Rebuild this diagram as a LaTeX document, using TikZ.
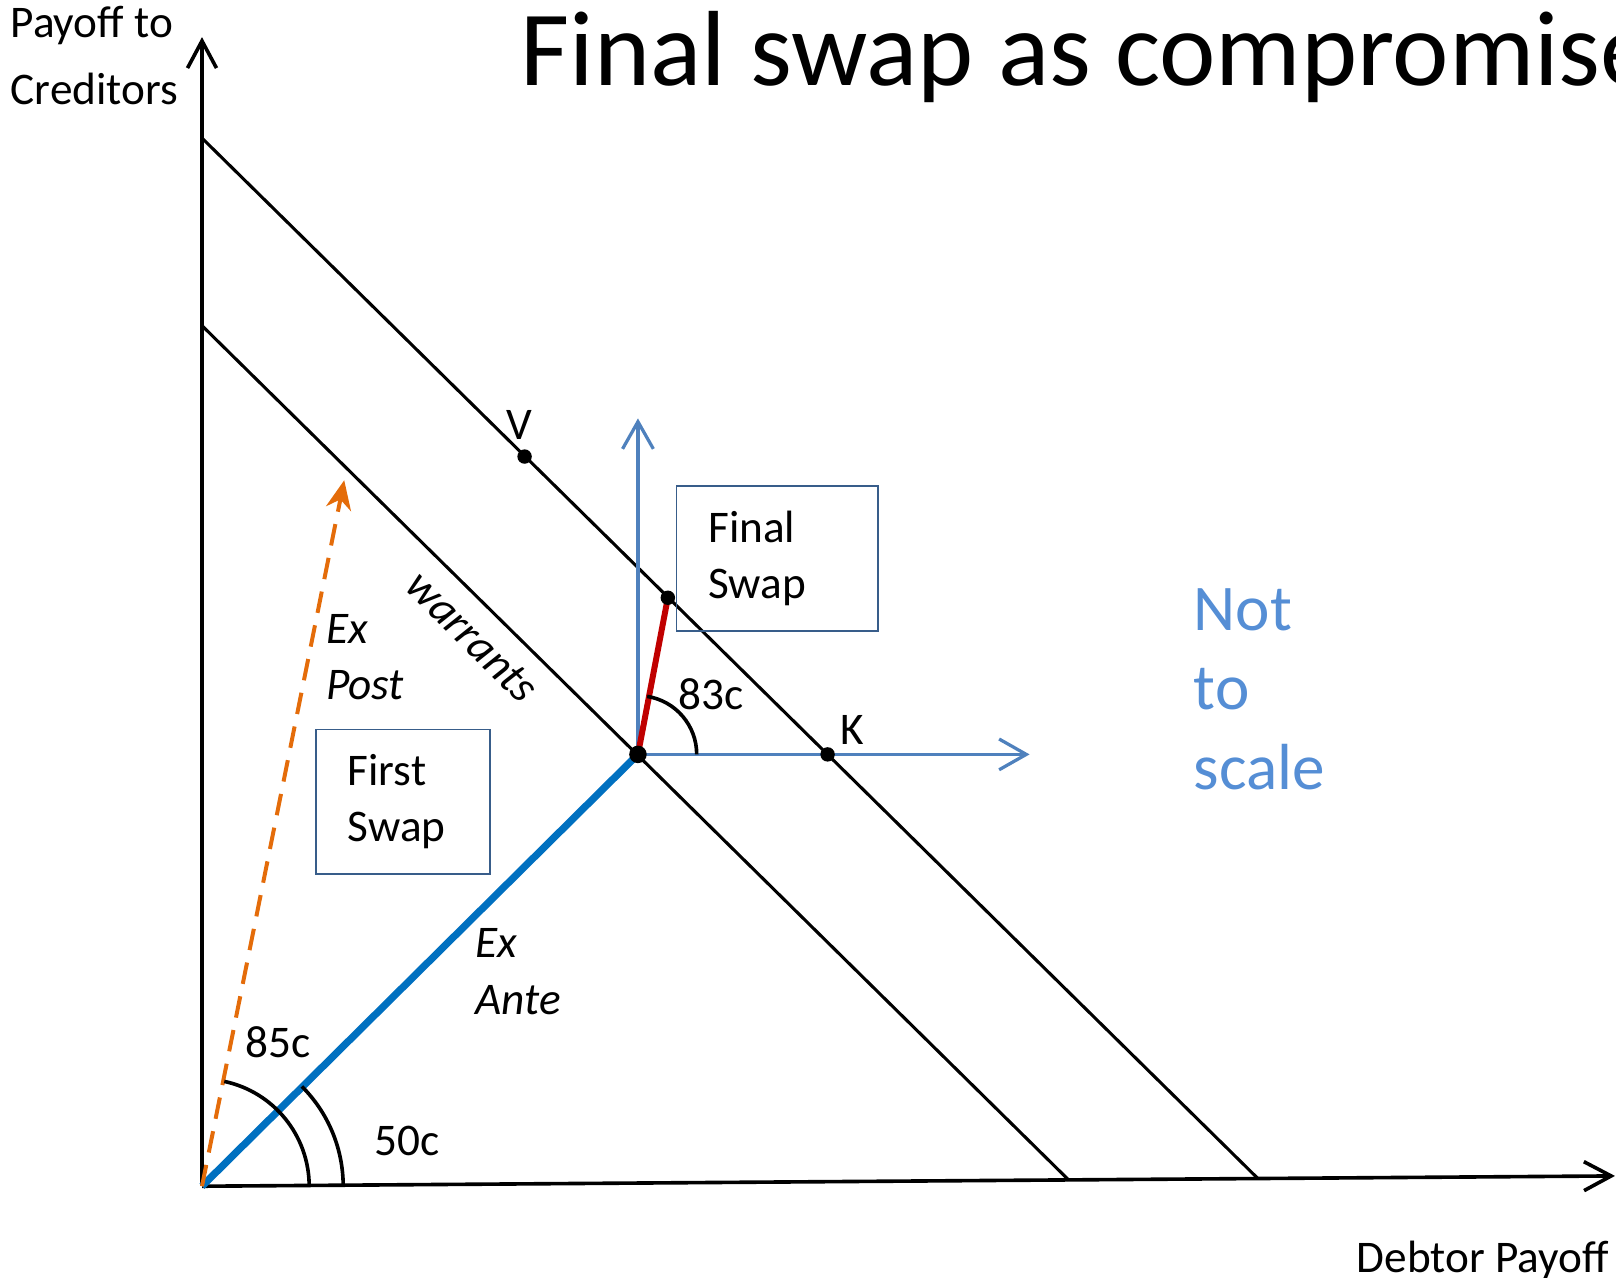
\documentclass[tikz,border=0pt]{standalone}
\usepackage{fontspec}
\setmainfont{Carlito}
\usetikzlibrary{arrows.meta}
\definecolor{frameblue}{RGB}{79,129,189}
\definecolor{anteblue}{RGB}{0,112,192}
\definecolor{boxblue}{RGB}{56,93,138}
\definecolor{noteblue}{RGB}{85,142,213}
\definecolor{swapred}{RGB}{192,0,0}
\definecolor{postorange}{RGB}{228,108,10}

\begin{document}
\begin{tikzpicture}[x=0.02cm, y=0.02cm,
  lab/.style={font=\fontsize{25}{31}\selectfont, inner sep=0pt, anchor=base west, align=left},
  itlab/.style={lab, font=\fontsize{25}{31}\selectfont\itshape},
  axis/.style={line width=2pt, -{Straight Barb[length=15pt, width=16pt]}},
  framearrow/.style={frameblue, line width=1.8pt, -{Straight Barb[length=15pt, width=17pt]}},
  anglearc/.style={line width=2pt},
  swapbox/.style={draw=boxblue, line width=0.9pt, font=\fontsize{25}{31}\selectfont,
    align=left, inner xsep=17.6pt, inner ysep=0pt, minimum height=80pt}]
  \useasboundingbox (0,0) rectangle (1568,1240);
  \clip (0,0) rectangle (1568,1240);
  % points of the diagram
  \coordinate (O) at (196,89);
  \coordinate (ytop) at (196,1204);
  \coordinate (xend) at (1567,99);
  \coordinate (U1) at (196,1106);
  \coordinate (U2) at (1220,97);
  \coordinate (L1) at (196,924);
  \coordinate (L2) at (1037,95);
  \coordinate (P) at (619,508);
  \coordinate (V) at (509,797);
  \coordinate (K) at (803,508);
  \coordinate (F) at (648,660);
  \coordinate (vtop) at (619,834);
  \coordinate (hend) at (999,508);
  \coordinate (post) at (334,774);
  % frontiers
  \draw[line width=1.7pt] (U1) -- (U2);
  \draw[line width=1.7pt] (L1) -- (L2);
  \draw[axis] (O) -- (ytop);
  \draw[axis] (O) -- (xend);
  \draw[framearrow] (P) -- (vtop);
  \draw[framearrow] (P) -- (hend);
  \draw[anteblue, line width=4pt] (O) -- (P);
  \draw[postorange, line width=2.2pt, dash pattern=on 12pt off 7pt,
    -{Stealth[length=16pt, width=14pt]}] (O) -- (post);
  \draw[swapred, line width=3.3pt] (P) -- (F);
  \draw[anglearc] (O) ++(104,0) arc[start angle=0, end angle=78, radius=2.08cm];
  \draw[anglearc] (O) ++(137,0) arc[start angle=0, end angle=45, radius=2.74cm];
  \draw[anglearc] (P) ++(57,0) arc[start angle=0, end angle=81, radius=1.14cm];
  \fill (V) circle[radius=0.14cm];
  \fill (K) circle[radius=0.14cm];
  \fill (F) circle[radius=0.14cm];
  \fill (P) circle[radius=0.17cm];
  % boxes and labels
  \node[swapbox, text width=61pt] (first) at (391,462) {First\\Swap};
  \node[swapbox, text width=76pt] (final) at (754,698) {Final\\Swap};
  \node[lab, font=\fontsize{25}{37}\selectfont] (ylab) at (10,1139) {Payoff to\\Creditors};
  \node[lab, font=\fontsize{59}{68}\selectfont] (title) at (505,1157) {Final swap as compromise};
  \node[lab] (xlab) at (1316,5) {Debtor Payoff};
  \node[lab] (vlab) at (491,814) {V};
  \node[lab] (klab) at (815,518) {K};
  \node[lab] (a83) at (658,552) {83c};
  \node[lab] (a85) at (238,214) {85c};
  \node[lab] (a50) at (363,119) {50c};
  \node[itlab] (postlab) at (316,561) {Ex\\Post};
  \node[itlab] (antelab) at (461,256) {Ex\\Ante};
  \node[itlab, rotate=-44.6, anchor=center] (warr) at (458,622) {warrants};
  \node[lab, text=noteblue, font=\fontsize{36}{44}\selectfont] (scalelab) at (1158,474) {Not\\to\\scale};
\end{tikzpicture}
\end{document}
